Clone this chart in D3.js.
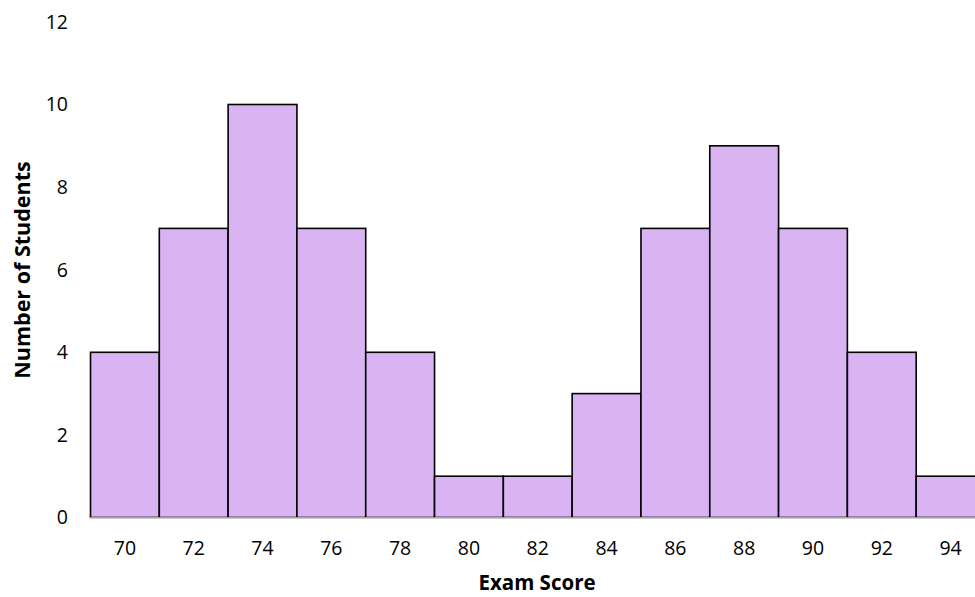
<!DOCTYPE html>
<html><head><meta charset="utf-8">
<script src="https://cdn.jsdelivr.net/npm/d3@7"></script>
<style>body{margin:0;background:#fff}svg{display:block}text{font-family:"Open Sans",sans-serif}</style>
</head><body><svg id="c" width="975" height="597"></svg>
<script>
const categories = ["70","72","74","76","78","80","82","84","86","88","90","92","94"];
const counts = [4,7,10,7,4,1,1,3,7,9,7,4,1];
const yTicks = [0,2,4,6,8,10,12];
const xTitle = "Exam Score";
const yTitle = "Number of Students";

const svg = d3.select("#c");
const x = d3.scaleBand().domain(categories).range([90.5, 985]).padding(0);
const y = d3.scaleLinear().domain([0,12]).range([517.5, 21.9]);

svg.append("g").selectAll("rect").data(counts).join("rect")
  .attr("x", (d,i)=>x(categories[i]))
  .attr("y", d=>y(d))
  .attr("width", x.bandwidth())
  .attr("height", d=>y(0)-y(d))
  .attr("fill", "#d9b3f2")
  .attr("stroke", "#000")
  .attr("stroke-width", 1.6);

// baseline
svg.append("line").attr("x1",90).attr("x2",975).attr("y1",y(0)+0.5).attr("y2",y(0)+0.5)
  .attr("stroke","#d9d9d9").attr("stroke-width",1.5);

// y tick labels
svg.append("g").selectAll("text").data(yTicks).join("text")
  .attr("x", 68).attr("y", d=>y(d)).attr("dy","0.35em")
  .attr("text-anchor","end").attr("font-size",19.5).attr("fill","#000")
  .text(d=>d);

// x tick labels
svg.append("g").selectAll("text").data(categories).join("text")
  .attr("x", d=>x(d)+x.bandwidth()/2).attr("y", 555)
  .attr("text-anchor","middle").attr("font-size",19.5).attr("fill","#000")
  .text(d=>d);

svg.append("text").attr("x",537).attr("y",590)
  .attr("text-anchor","middle").attr("font-size",20.5).attr("font-weight","bold").text(xTitle);
svg.append("text").attr("transform","translate(22,270) rotate(-90)").attr("dy","0.35em")
  .attr("text-anchor","middle").attr("font-size",21.5).attr("font-weight","bold").text(yTitle);
</script></body></html>
